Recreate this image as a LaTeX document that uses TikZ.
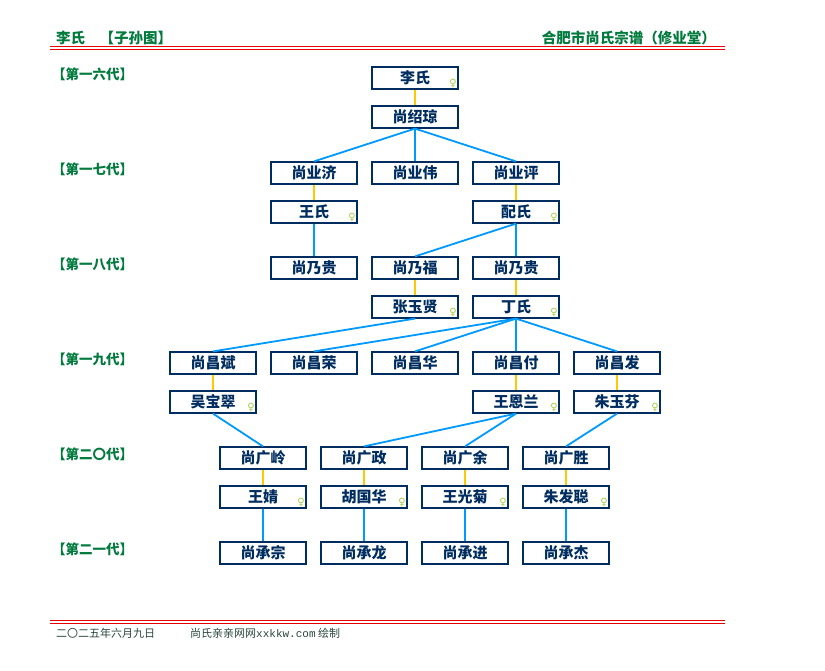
\documentclass[tikz,border=0pt]{standalone}
\usepackage{fontspec}
\setmainfont{Noto Sans CJK SC}
\newfontfamily\symfont{DejaVu Sans}
\newfontfamily\monofont{Liberation Mono}
\definecolor{navy}{RGB}{0,45,95}
\definecolor{hdgreen}{RGB}{0,122,61}
\definecolor{kidblue}{RGB}{0,153,255}
\definecolor{spgold}{RGB}{255,200,0}
\definecolor{redline}{RGB}{230,0,0}
\definecolor{femgreen}{RGB}{160,205,60}
\definecolor{foot}{RGB}{40,70,60}
\tikzset{
  person/.style={draw=navy, line width=1.2pt, minimum width=86pt, minimum height=22pt,
    inner sep=0pt, fill=white, text=navy, font=\bfseries\fontsize{15}{15}\selectfont},
  wife/.style={person, path picture={\node[text=femgreen, inner sep=0pt,
      font=\symfont\fontsize{10}{10}\selectfont] at ([xshift=-5pt,yshift=6pt]path picture bounding box.south east) {♀};}},
  kid/.style={draw=kidblue, line width=1.8pt},
  spouse/.style={draw=spgold, line width=2.2pt},
  genlabel/.style={anchor=west, inner sep=0pt, text=hdgreen, font=\bfseries\fontsize{13.5}{14}\selectfont},
  header/.style={inner sep=0pt, text=hdgreen, font=\bfseries\fontsize{14.5}{15}\selectfont},
  footer/.style={inner sep=0pt, anchor=west, text=foot, font=\fontsize{11}{11}\selectfont},
  rule/.style={draw=redline, line width=1pt}
}
\begin{document}
\begin{tikzpicture}[x=1pt, y=-1pt]
\useasboundingbox[fill=white] (0,0) rectangle (825,670);
% header
\node[header, anchor=west] (htl) at (56,38) {李氏\hspace{1em}【子孙图】};
\node[header, anchor=east] (htr) at (716,38) {合肥市尚氏宗谱（修业堂）};
\coordinate (hl1a) at (50,46.5); \coordinate (hl1b) at (725,46.5);
\coordinate (hl2a) at (50,49.8); \coordinate (hl2b) at (725,49.8);
\draw[rule] (hl1a) -- (hl1b);
\draw[rule] (hl2a) -- (hl2b);
% footer
\coordinate (fl1a) at (50,620.7); \coordinate (fl1b) at (725,620.7);
\coordinate (fl2a) at (50,623.8); \coordinate (fl2b) at (725,623.8);
\draw[rule] (fl1a) -- (fl1b);
\draw[rule] (fl2a) -- (fl2b);
\node[footer] (fdate) at (56,633) {二〇二五年六月九日};
\node[footer] (fsite) at (190,633) {尚氏亲亲网网{\monofont xxkkw.com} 绘制};
% generation labels
\node[genlabel] (g16) at (52,74) {【第一六代】};
\node[genlabel] (g17) at (52,169) {【第一七代】};
\node[genlabel] (g18) at (52,264) {【第一八代】};
\node[genlabel] (g19) at (52,359) {【第一九代】};
\node[genlabel] (g20) at (52,454) {【第二〇代】};
\node[genlabel] (g21) at (52,549) {【第二一代】};
% persons
\node[wife]   (li)     at (415,78)  {李氏};
\node[person] (shaoq)  at (415,117) {尚绍琼};
\node[person] (yeji)   at (314,173) {尚业济};
\node[person] (yewei)  at (415,173) {尚业伟};
\node[person] (yeping) at (516,173) {尚业评};
\node[wife]   (wang1)  at (314,212) {王氏};
\node[wife]   (pei)    at (516,212) {配氏};
\node[person] (naiguiA) at (314,268) {尚乃贵};
\node[person] (naifu)  at (415,268) {尚乃福};
\node[person] (naiguiB) at (516,268) {尚乃贵};
\node[wife]   (zhang)  at (415,307) {张玉贤};
\node[wife]   (ding)   at (516,307) {丁氏};
\node[person] (cbin)   at (213,363) {尚昌斌};
\node[person] (crong)  at (314,363) {尚昌荣};
\node[person] (chua)   at (415,363) {尚昌华};
\node[person] (cfu)    at (516,363) {尚昌付};
\node[person] (cfa)    at (617,363) {尚昌发};
\node[wife]   (wu)     at (213,402) {吴宝翠};
\node[wife]   (wen)    at (516,402) {王恩兰};
\node[wife]   (zhu)    at (617,402) {朱玉芬};
\node[person] (gling)  at (263,458) {尚广岭};
\node[person] (gzheng) at (364,458) {尚广政};
\node[person] (gyu)    at (465,458) {尚广余};
\node[person] (gsheng) at (566,458) {尚广胜};
\node[wife]   (wj)     at (263,497) {王婧};
\node[wife]   (hu)     at (364,497) {胡国华};
\node[wife]   (wgj)    at (465,497) {王光菊};
\node[wife]   (zfc)    at (566,497) {朱发聪};
\node[person] (czong)  at (263,553) {尚承宗};
\node[person] (clong)  at (364,553) {尚承龙};
\node[person] (cjin)   at (465,553) {尚承进};
\node[person] (cjie)   at (566,553) {尚承杰};
% connectors
\draw[spouse] (li.south) -- (shaoq.north);
\draw[kid] (shaoq.south) -- (yeji.north);
\draw[kid] (shaoq.south) -- (yewei.north);
\draw[kid] (shaoq.south) -- (yeping.north);
\draw[spouse] (yeji.south) -- (wang1.north);
\draw[spouse] (yeping.south) -- (pei.north);
\draw[kid] (wang1.south) -- (naiguiA.north);
\draw[kid] (pei.south) -- (naifu.north);
\draw[kid] (pei.south) -- (naiguiB.north);
\draw[spouse] (naifu.south) -- (zhang.north);
\draw[spouse] (naiguiB.south) -- (ding.north);
\draw[kid] (zhang.south) -- (cbin.north);
\draw[kid] (ding.south) -- (crong.north);
\draw[kid] (ding.south) -- (chua.north);
\draw[kid] (ding.south) -- (cfu.north);
\draw[kid] (ding.south) -- (cfa.north);
\draw[spouse] (cbin.south) -- (wu.north);
\draw[spouse] (cfu.south) -- (wen.north);
\draw[spouse] (cfa.south) -- (zhu.north);
\draw[kid] (wu.south) -- (gling.north);
\draw[kid] (wen.south) -- (gzheng.north);
\draw[kid] (wen.south) -- (gyu.north);
\draw[kid] (zhu.south) -- (gsheng.north);
\draw[spouse] (gling.south) -- (wj.north);
\draw[spouse] (gzheng.south) -- (hu.north);
\draw[spouse] (gyu.south) -- (wgj.north);
\draw[spouse] (gsheng.south) -- (zfc.north);
\draw[kid] (wj.south) -- (czong.north);
\draw[kid] (hu.south) -- (clong.north);
\draw[kid] (wgj.south) -- (cjin.north);
\draw[kid] (zfc.south) -- (cjie.north);
\end{tikzpicture}
\end{document}
